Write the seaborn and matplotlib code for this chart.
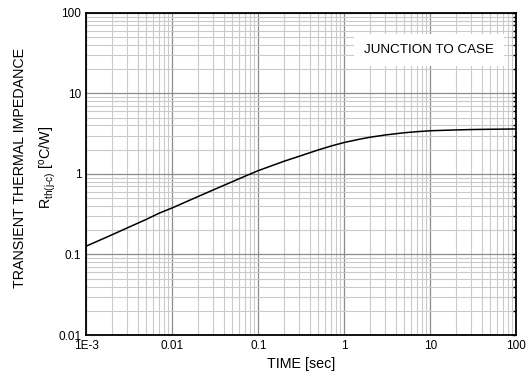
import matplotlib.pyplot as plt
import seaborn as sns
from matplotlib.ticker import LogLocator, FixedLocator, FixedFormatter, NullFormatter

# transient thermal impedance curve
time_s = [0.001, 0.002, 0.003, 0.005, 0.007, 0.01, 0.02, 0.03, 0.05, 0.07, 0.1,
          0.2, 0.3, 0.5, 0.7, 1, 1.5, 2, 3, 5, 7, 10, 20, 30, 50, 100]
zth = [0.127, 0.176, 0.214, 0.273, 0.325, 0.379, 0.525, 0.634, 0.802, 0.937, 1.1,
       1.44, 1.66, 1.99, 2.22, 2.46, 2.7, 2.86, 3.05, 3.25, 3.35, 3.44, 3.52, 3.56, 3.59, 3.62]

x_ticks = [0.001, 0.01, 0.1, 1, 10, 100]
x_labels = ['1E-3', '0.01', '0.1', '1', '10', '100']
y_ticks = [0.01, 0.1, 1, 10, 100]
y_labels = ['0.01', '0.1', '1', '10', '100']

sns.set_style('white')
plt.rcParams['font.family'] = ['Liberation Sans', 'DejaVu Sans']
plt.rcParams['mathtext.fontset'] = 'custom'
plt.rcParams['mathtext.rm'] = 'Liberation Sans'
plt.rcParams['text.color'] = 'black'
plt.rcParams['axes.labelcolor'] = 'black'
plt.rcParams['xtick.color'] = 'black'
plt.rcParams['ytick.color'] = 'black'

fig, ax = plt.subplots(figsize=(5.29, 3.79), dpi=100)
fig.subplots_adjust(left=0.163, right=0.976, top=0.966, bottom=0.116)

sns.lineplot(x=time_s, y=zth, ax=ax, color='black', linewidth=1.1, zorder=5)

ax.set_xscale('log')
ax.set_yscale('log')
ax.set_xlim(0.001, 100)
ax.set_ylim(0.01, 100)

ax.xaxis.set_major_locator(FixedLocator(x_ticks))
ax.xaxis.set_major_formatter(FixedFormatter(x_labels))
ax.yaxis.set_major_locator(FixedLocator(y_ticks))
ax.yaxis.set_major_formatter(FixedFormatter(y_labels))
for axis in (ax.xaxis, ax.yaxis):
    axis.set_minor_locator(LogLocator(base=10, subs=range(2, 10), numticks=20))
    axis.set_minor_formatter(NullFormatter())

ax.grid(which='major', color='#8c8c8c', linewidth=0.9)
ax.grid(which='minor', color='#cacaca', linewidth=0.8)
ax.tick_params(which='both', direction='in', top=False, right=True, labelsize=8.5)
ax.tick_params(which='major', length=3, width=1)
ax.tick_params(which='minor', length=2, width=1)
for s in ax.spines.values():
    s.set_color('black')
    s.set_linewidth(1.3)

ax.set_xlabel('TIME [sec]', fontsize=10.3, labelpad=4)
ax.set_ylabel('TRANSIENT THERMAL IMPEDANCE\n'
              + r'R$_{\mathrm{th(j}\text{-}\mathrm{c)}}$ [$^{\mathrm{o}}$C/W]',
              fontsize=10.3, labelpad=0, linespacing=1.8)
ax.yaxis.label.set_y(0.52)

ax.text(10**0.98, 10**1.54, 'JUNCTION TO CASE', fontsize=9.6, ha='center', va='center',
        zorder=6, bbox=dict(boxstyle='square,pad=0.75', facecolor='white', edgecolor='none'))

fig.savefig('out.png', dpi=100)
